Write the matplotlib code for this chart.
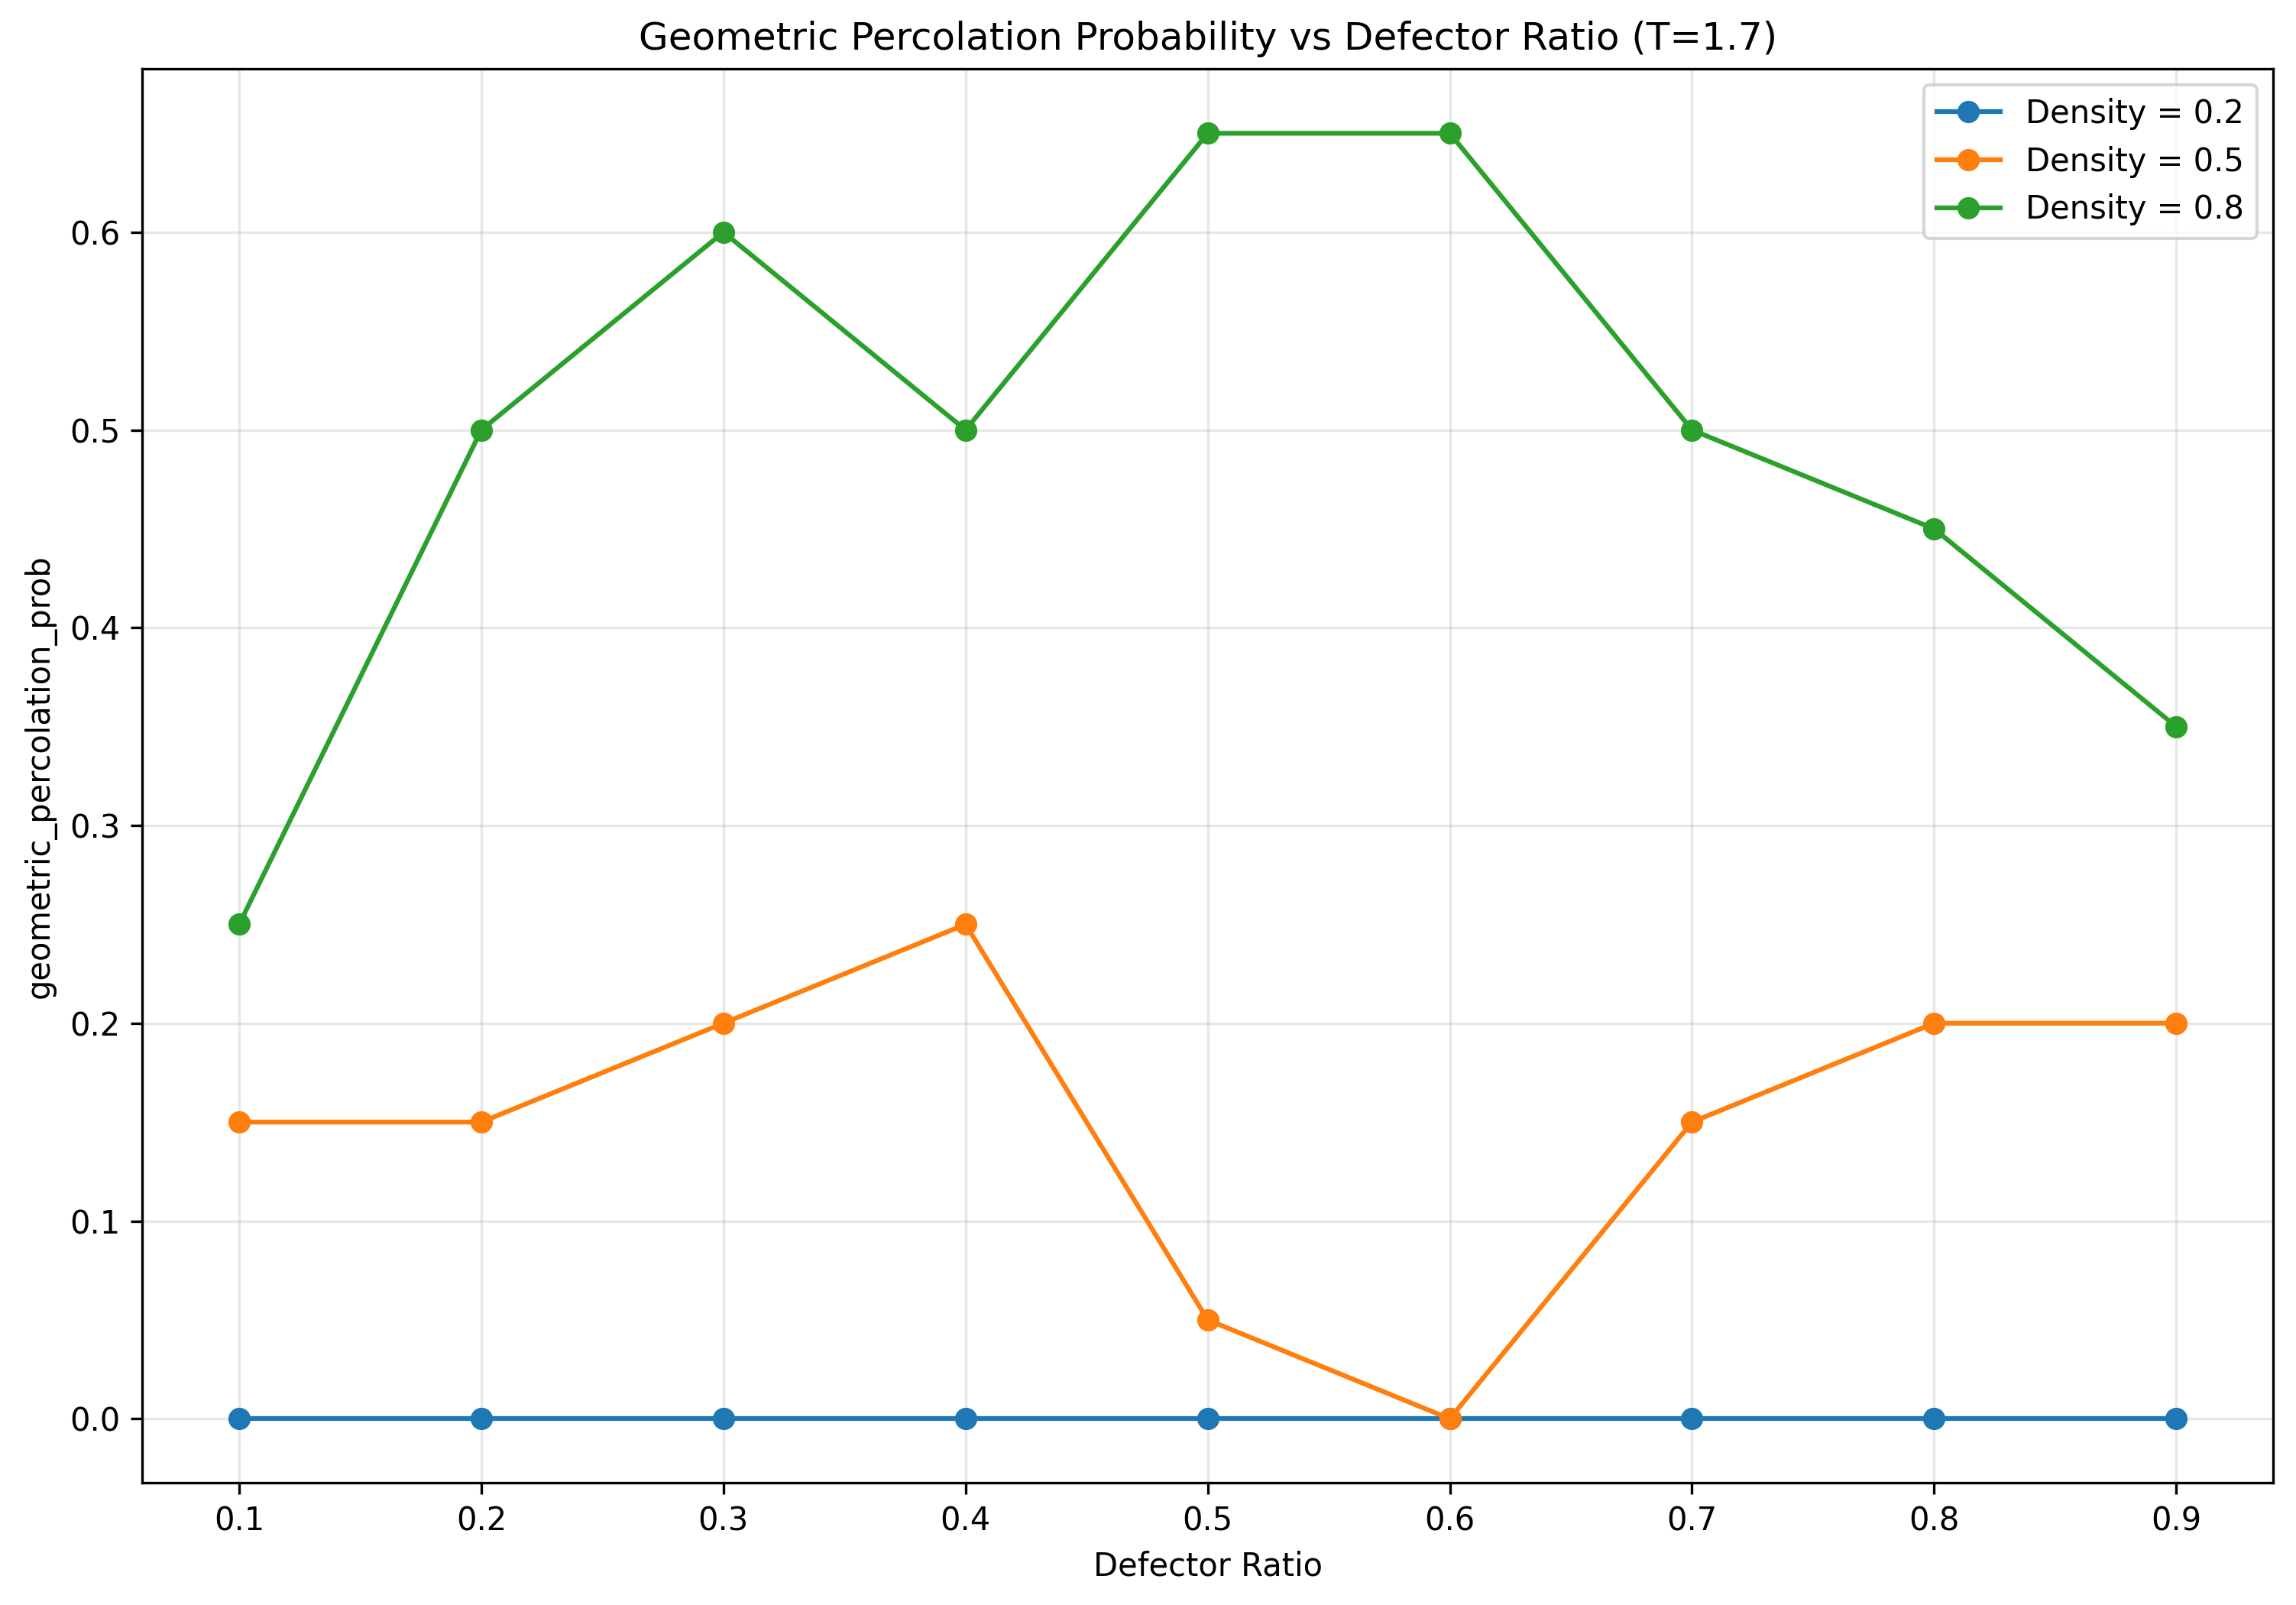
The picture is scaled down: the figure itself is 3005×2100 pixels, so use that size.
import matplotlib
matplotlib.use("Agg")
import matplotlib.pyplot as plt

defector_ratio = [0.1, 0.2, 0.3, 0.4, 0.5, 0.6, 0.7, 0.8, 0.9]
density_labels = ["Density = 0.2", "Density = 0.5", "Density = 0.8"]
prob_d02 = [0.0, 0.0, 0.0, 0.0, 0.0, 0.0, 0.0, 0.0, 0.0]
prob_d05 = [0.15, 0.15, 0.20, 0.25, 0.05, 0.0, 0.15, 0.20, 0.20]
prob_d08 = [0.25, 0.50, 0.60, 0.50, 0.65, 0.65, 0.50, 0.45, 0.35]

fig = plt.figure(figsize=(3005/300, 7.0), dpi=300)
ax = fig.add_axes([0.062, 0.076, 0.928, 0.881])
for vals, lab in zip([prob_d02, prob_d05, prob_d08], density_labels):
    ax.plot(defector_ratio, vals, marker='o', label=lab)
ax.set_title("Geometric Percolation Probability vs Defector Ratio (T=1.7)")
ax.set_xlabel("Defector Ratio")
ax.set_ylabel("geometric_percolation_prob")
ax.legend()
ax.grid(True, alpha=0.3)
fig.savefig("out.png", dpi=300)
